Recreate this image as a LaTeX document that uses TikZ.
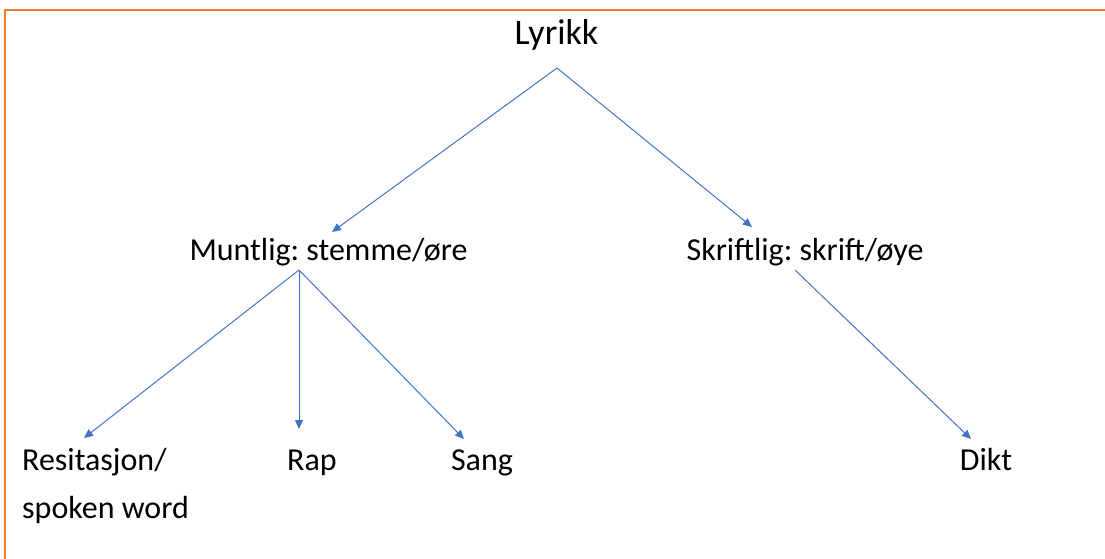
\documentclass[tikz,border=0pt]{standalone}
\usepackage{fontspec}
\setmainfont{Carlito}
\frenchspacing
\usetikzlibrary{arrows.meta}
\definecolor{frameorange}{HTML}{ED7D31}
\definecolor{linkblue}{HTML}{4472C4}
\tikzset{
  label32/.style={inner sep=0pt, font=\fontsize{32}{48}\selectfont, text=black},
  label36/.style={inner sep=0pt, font=\fontsize{36}{42}\selectfont, text=black},
  link/.style={draw=linkblue, line width=1pt, -{Triangle[length=9pt,width=8pt]}},
}
\begin{document}
\begin{tikzpicture}[x=1pt,y=-1pt]
\useasboundingbox (0,0) rectangle (1105,558);
\draw[frameorange, line width=2pt] (4.5,560) -- (4.5,9.5) -- (1107,9.5);

\node[label36, anchor=base] (lyr) at (556.5,44) {Lyrikk};
\node[label32, anchor=base] (munt) at (328.5,260) {Muntlig: stemme/øre};
\node[label32, anchor=base] (skrift) at (805,260) {Skriftlig: skrift/øye};
\node[label32, anchor=base west, align=left] (resit) at (22,518) {Resitasjon/\\spoken word};
\node[label32, anchor=base] (rap) at (312,470) {Rap};
\node[label32, anchor=base] (sang) at (482,470) {Sang};
\node[label32, anchor=base] (dikt) at (986,470) {Dikt};

\coordinate (lyrOut) at (557,68);
\coordinate (muntIn) at (332,232);
\coordinate (skriftIn) at (752,227);
\coordinate (muntOut) at (299,270);
\coordinate (skriftOut) at (795,270);
\coordinate (resitIn) at (84,438);
\coordinate (rapIn) at (299,429);
\coordinate (sangIn) at (464,439);
\coordinate (diktIn) at (971,439);

\draw[link] (lyrOut) -- (muntIn);
\draw[link] (lyrOut) -- (skriftIn);
\draw[link] (muntOut) -- (resitIn);
\draw[link] (muntOut) -- (rapIn);
\draw[link] (muntOut) -- (sangIn);
\draw[link] (skriftOut) -- (diktIn);
\end{tikzpicture}
\end{document}
